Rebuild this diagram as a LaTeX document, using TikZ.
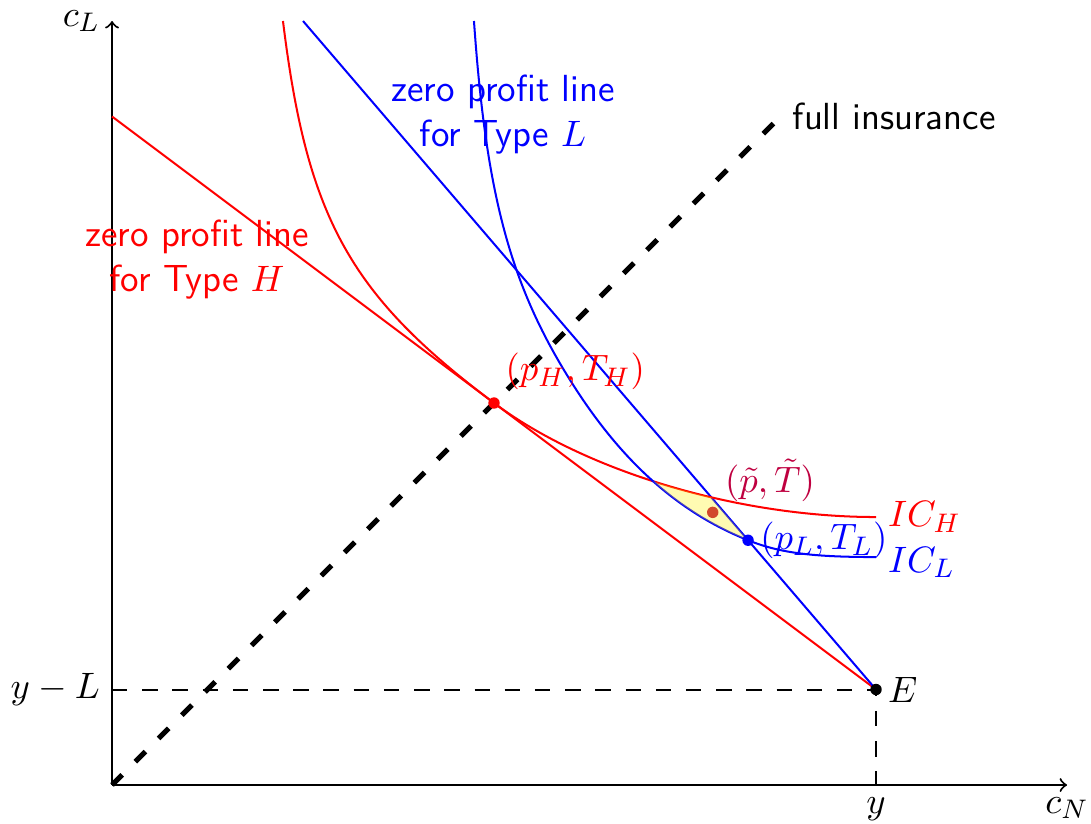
\documentclass[tikz,border=0pt]{standalone}
\begin{document}
\begin{tikzpicture}[line width=0.6pt,
  font=\fontsize{11.25}{13.5}\selectfont,
  thindash/.style={dash pattern=on 4.6pt off 4.4pt},
  fullins/.style={line width=1.5pt, dash pattern=on 4.3pt off 5.5pt},
  dot/.style={circle, fill, inner sep=0pt, minimum size=3.4pt},
  lens/.style={fill=yellow, opacity=0.3}]
\useasboundingbox (-1.173,-0.398) rectangle (10.251,8.22);
% key points
\coordinate (O) at (0,0);
\coordinate (E) at (8,1);
\coordinate (pH) at (4,4);
\coordinate (pL) at (6.66,2.563);
\coordinate (pt) at (6.29,2.855);
\coordinate (FI) at (7,7);
\coordinate (H0) at (0,7);
\coordinate (L0) at (2,8);
\coordinate (XE) at (10,0);
\coordinate (YE) at (0,8);
\coordinate (yL) at (0,1);
\coordinate (yy) at (8,0);
\coordinate (ICHtop) at (1.79,8);
\coordinate (ICHend) at (8,2.806);
\coordinate (ICLtop) at (3.79,8);
\coordinate (ICLmid) at (4.796,4.241);
\coordinate (ICLend) at (8,2.387);
% axes
\draw[->] (O) -- (XE);
\draw[->] (O) -- (YE);
% dashed guides
\draw[thindash] (yL) -- (E) -- (yy);
\draw[fullins] (O) -- (FI);
% zero profit lines
\draw[red] (H0) -- (E);
\draw[blue] (L0) -- (E);
% indifference curves
\draw[red] (ICHtop) .. controls (2.044,5.936) and (2.486,5.136) .. (pH)
  .. controls (4.955,3.284) and (6.555,2.806) .. (ICHend);
\draw[blue] (ICLtop) .. controls (3.917,6.185) and (4.168,5.245) .. (ICLmid)
  .. controls (5.325,3.395) and (5.921,2.858) .. (pL)
  .. controls (6.99,2.431) and (7.325,2.387) .. (ICLend);
% deviating contract (under the lens)
\node[dot, purple] (ptd) at (pt) {};
% lens between IC_H, IC_L and the zero profit line of type L
\begin{scope}
\clip (ICHtop) .. controls (2.044,5.936) and (2.486,5.136) .. (pH)
  .. controls (4.955,3.284) and (6.555,2.806) .. (ICHend) -- (yy) -- (O) -- (YE) -- cycle;
\clip (L0) -- (E) -- (O) -- (YE) -- cycle;
\fill[lens] (ICLtop) .. controls (3.917,6.185) and (4.168,5.245) .. (ICLmid)
  .. controls (5.325,3.395) and (5.921,2.858) .. (pL)
  .. controls (6.99,2.431) and (7.325,2.387) .. (ICLend) -- (10,2.387) -- (10,8) -- cycle;
\end{scope}
% dots
\node[dot, black] (Ed) at (E) {};
\node[dot, red] (pHd) at (pH) {};
\node[dot, blue] (pLd) at (pL) {};
% labels
\node[left] (cL) at (YE) {$c_L$};
\node[below] (cN) at (XE) {$c_N$};
\node[left] (yLl) at (yL) {$y-L$};
\node[below] (yl) at (yy) {$y$};
\node[right] (El) at (E) {$E$};
\node[right] (FIl) at (FI) {\sffamily full insurance};
\node[right, red] (ICHl) at (ICHend) {$IC_H$};
\node[right, blue] (ICLl) at (8,2.33) {$IC_L$};
\node[right, blue] (pLl) at (pL) {$(p_L,T_L)$};
\node[red] (pHl) at (4.85,4.33) {$(p_H,T_H)$};
\node[purple] (ptl) at (6.89,3.19) {$(\tilde p,\tilde T)$};
\node[red, align=center] (zH) at (0.89,5.5) {\sffamily zero profit line\\\sffamily for Type $H$};
\node[blue, align=center] (zL) at (4.094,7.02) {\sffamily zero profit line\\\sffamily for Type $L$};
\end{tikzpicture}
\end{document}
